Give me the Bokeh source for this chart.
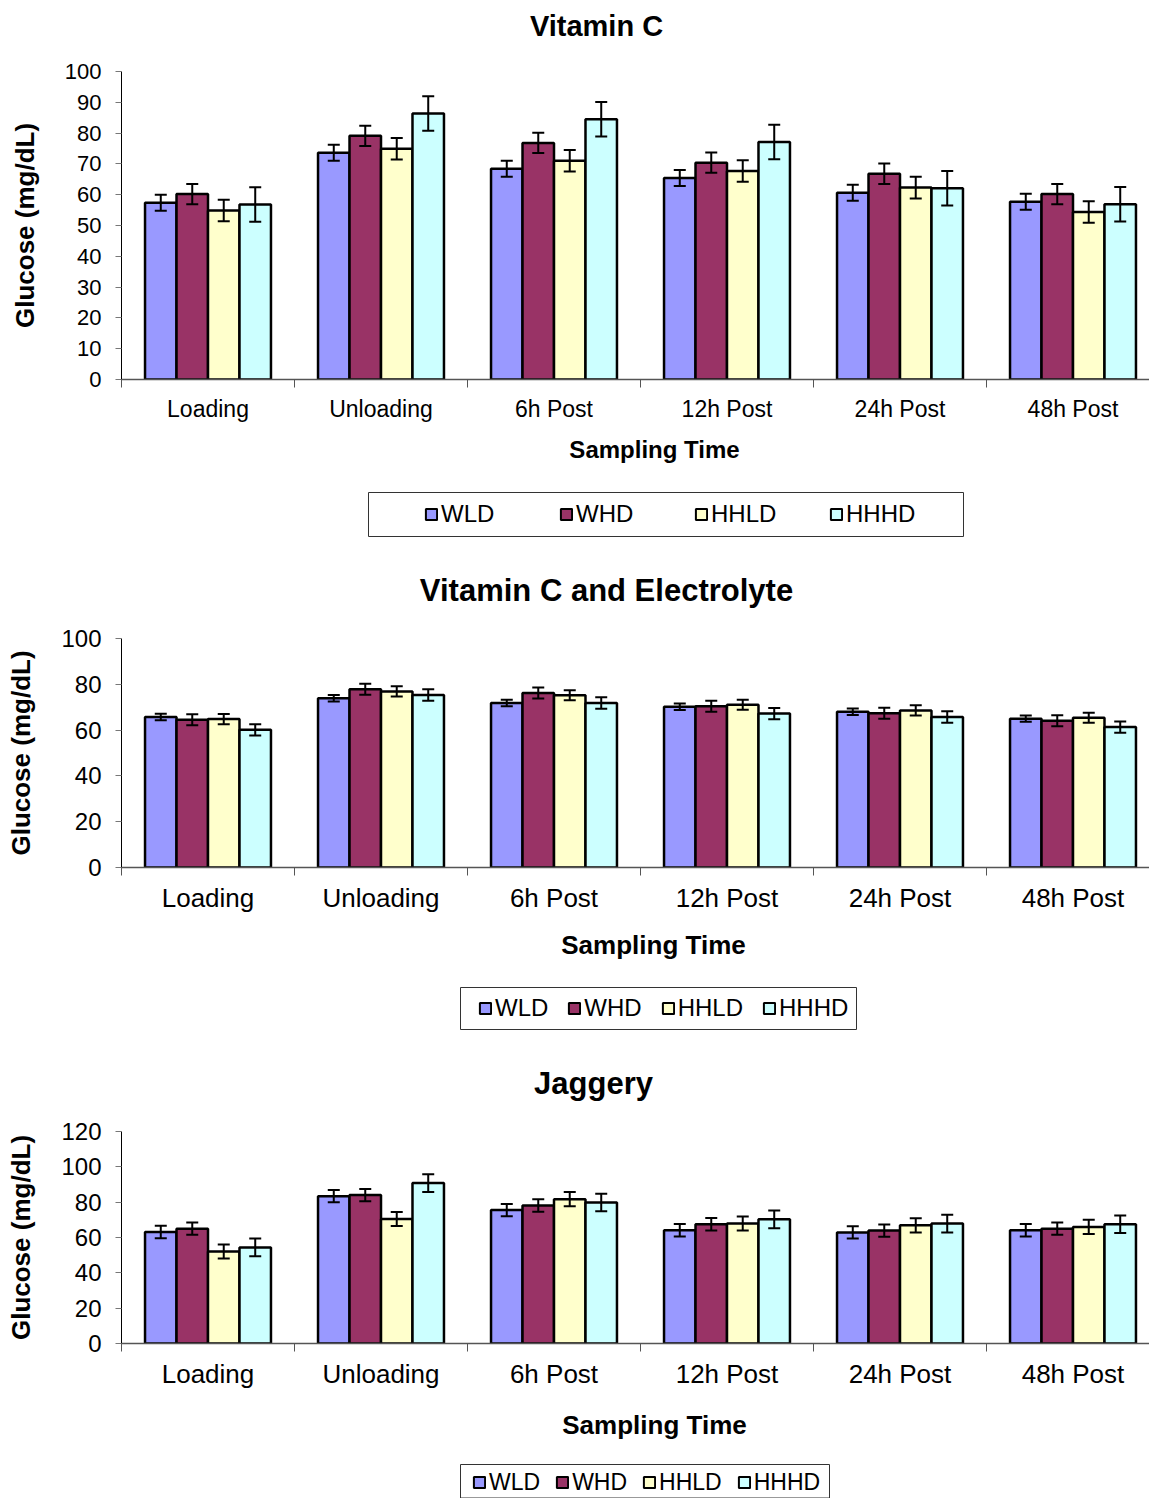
from bokeh.plotting import figure
from bokeh.models import (Range1d, FixedTicker, Whisker, TeeHead, ColumnDataSource,
                          Legend, LegendItem, Label, BoxAnnotation)
from bokeh.layouts import column
from bokeh.embed import file_html
from bokeh.resources import INLINE

# ---------------- data ----------------
categories = ["Loading", "Unloading", "6h Post", "12h Post", "24h Post", "48h Post"]
series = ["WLD", "WHD", "HHLD", "HHHD"]
colors = ["#9999FF", "#993366", "#FFFFCC", "#CCFFFF"]

# Vitamin C
vitc_wld = [57.4, 73.6, 68.4, 65.4, 60.6, 57.7]
vitc_whd = [60.2, 79.1, 76.8, 70.4, 66.8, 60.2]
vitc_hhld = [54.9, 74.9, 71.0, 67.7, 62.3, 54.4]
vitc_hhhd = [56.8, 86.4, 84.5, 77.1, 62.1, 56.9]
vitc_wld_err = [2.6, 2.6, 2.6, 2.6, 2.6, 2.6]
vitc_whd_err = [3.3, 3.3, 3.3, 3.3, 3.3, 3.3]
vitc_hhld_err = [3.5, 3.5, 3.5, 3.5, 3.5, 3.5]
vitc_hhhd_err = [5.6, 5.6, 5.6, 5.6, 5.6, 5.6]

# Vitamin C and Electrolyte
vce_wld = [65.7, 73.9, 71.8, 70.2, 68.0, 65.0]
vce_whd = [64.5, 77.8, 76.2, 70.4, 67.4, 64.1]
vce_hhld = [64.8, 76.9, 75.2, 71.1, 68.6, 65.4]
vce_hhhd = [60.1, 75.3, 71.8, 67.2, 65.7, 61.3]
vce_wld_err = [1.4, 1.4, 1.4, 1.4, 1.4, 1.4]
vce_whd_err = [2.4, 2.4, 2.4, 2.4, 2.4, 2.4]
vce_hhld_err = [2.2, 2.2, 2.2, 2.2, 2.2, 2.2]
vce_hhhd_err = [2.5, 2.5, 2.5, 2.5, 2.5, 2.5]

# Jaggery
jag_wld = [63.1, 83.4, 75.5, 64.1, 62.9, 64.1]
jag_whd = [65.0, 84.0, 78.1, 67.5, 63.9, 65.0]
jag_hhld = [52.1, 70.5, 81.7, 67.9, 66.9, 66.0]
jag_hhhd = [54.4, 90.8, 79.8, 70.3, 67.9, 67.5]
jag_wld_err = [3.5, 3.5, 3.5, 3.5, 3.5, 3.5]
jag_whd_err = [3.5, 3.5, 3.5, 3.5, 3.5, 3.5]
jag_hhld_err = [4.0, 4.0, 4.0, 4.0, 4.0, 4.0]
jag_hhhd_err = [5.0, 5.0, 5.0, 5.0, 5.0, 5.0]

yticks_vitc = [0, 10, 20, 30, 40, 50, 60, 70, 80, 90, 100]
yticks_vce = [0, 20, 40, 60, 80, 100]
yticks_jag = [0, 20, 40, 60, 80, 100, 120]

titles = ["Vitamin C", "Vitamin C and Electrolyte", "Jaggery"]
x_title = "Sampling Time"
y_title = "Glucose (mg/dL)"

FONT = "Liberation Sans"
BAR_W = 0.182
LEFT = 121
FRAME_W = 1028
W = LEFT + FRAME_W


def make_chart(values, errors, yticks, ymax, cfg):
    p = figure(frame_width=FRAME_W, frame_height=cfg["frame_h"],
               output_backend="svg", toolbar_location=None,
               x_range=Range1d(0, FRAME_W / 173.0), y_range=Range1d(0, ymax),
               min_border_left=LEFT, min_border_right=0,
               min_border_top=cfg["top"], min_border_bottom=55)
    p.title.text = ""
    p.title.visible = False
    p.outline_line_color = None
    p.xgrid.grid_line_color = None
    p.ygrid.grid_line_color = None

    for k, col in enumerate(colors):
        xs = [i + 0.5 + (k - 1.5) * BAR_W for i in range(len(categories))]
        src = ColumnDataSource(dict(x=xs, top=values[k],
                                    upper=[v + e for v, e in zip(values[k], errors[k])],
                                    lower=[v - e for v, e in zip(values[k], errors[k])]))
        p.vbar(x="x", top="top", bottom=0, width=BAR_W, source=src,
               fill_color=col, line_color="black", line_width=2.5)
        w = Whisker(source=src, base="x", upper="upper", lower="lower",
                    line_color="black", line_width=2, level="overlay",
                    upper_head=TeeHead(size=12, line_color="black", line_width=2),
                    lower_head=TeeHead(size=12, line_color="black", line_width=2))
        p.add_layout(w)

    xa = p.xaxis[0]
    xa.ticker = FixedTicker(ticks=[i + 0.5 for i in range(len(categories))],
                            minor_ticks=list(range(len(categories) + 1)))
    xa.major_label_overrides = {i + 0.5: c for i, c in enumerate(categories)}
    xa.major_tick_line_color = None
    xa.major_tick_out = 8
    xa.minor_tick_out = 8
    xa.minor_tick_in = 0
    xa.minor_tick_line_color = "#555555"
    xa.axis_line_color = "#555555"
    xa.axis_line_width = 1.5
    xa.major_label_text_font = FONT
    xa.major_label_text_font_size = cfg["xtick_fs"]
    xa.major_label_text_color = "black"
    xa.major_label_standoff = cfg["xlab_standoff"]

    ya = p.yaxis[0]
    ya.ticker = FixedTicker(ticks=yticks)
    ya.minor_tick_line_color = None
    ya.major_tick_out = 6
    ya.major_tick_in = 0
    ya.major_tick_line_color = "#777777"
    ya.axis_line_color = "black"
    ya.major_label_text_font = FONT
    ya.major_label_text_font_size = cfg["ytick_fs"]
    ya.major_label_text_color = "black"
    ya.major_label_standoff = 14
    ya.axis_label = y_title
    ya.axis_label_text_font = FONT
    ya.axis_label_text_font_size = "26px"
    ya.axis_label_text_font_style = "bold"
    ya.axis_label_text_color = "black"
    ya.axis_label_standoff = 22
    return p


def make_strip(height):
    # frame aligned with the charts' frames; data x equals page x, data y counts up from bottom
    s = figure(frame_width=FRAME_W, frame_height=height,
               output_backend="svg", toolbar_location=None,
               x_range=Range1d(LEFT, W), y_range=Range1d(0, height),
               x_axis_location=None, y_axis_location=None,
               min_border_left=LEFT, min_border_right=0,
               min_border_top=0, min_border_bottom=0)
    s.title.text = ""
    s.title.visible = False
    s.outline_line_color = None
    s.grid.visible = False
    return s


def add_text(s, x, y, text, size):
    s.add_layout(Label(x=x, y=y, text=text, text_font=FONT, text_font_size=size,
                       text_font_style="bold", text_color="black",
                       text_align="center", text_baseline="middle"))


def add_legend(s, cfg):
    items = []
    nan = float("nan")
    for name, col in zip(series, colors):
        r = s.vbar(x=[nan], top=[nan], width=1, fill_color=col, line_color="black",
                   line_width=2)
        items.append(LegendItem(label=name, renderers=[r]))
    leg = Legend(items=items, orientation="horizontal",
                 location=(cfg["x"] - LEFT, cfg["y"]),
                 label_text_font=FONT, label_text_font_size=cfg["fs"],
                 label_text_color="black",
                 glyph_width=14, glyph_height=14, label_standoff=3,
                 spacing=cfg["spacing"], label_width=cfg["lw"], label_height=28,
                 padding=0, margin=0, border_line_color=None,
                 background_fill_alpha=0)
    s.add_layout(leg, "center")
    b = cfg["box"]
    s.add_layout(BoxAnnotation(left=b[0], right=b[1], bottom=b[2], top=b[3],
                               fill_alpha=0, line_color="#333333", line_width=1,
                               line_alpha=1))


# header with first title
h1 = make_strip(56)
add_text(h1, 596, 31, titles[0], "29px")

c1 = make_chart([vitc_wld, vitc_whd, vitc_hhld, vitc_hhhd],
                [vitc_wld_err, vitc_whd_err, vitc_hhld_err, vitc_hhhd_err],
                yticks_vitc, 100,
                dict(frame_h=308, top=15, xtick_fs="23px", ytick_fs="22px", xlab_standoff=8))

g1 = make_strip(184)
add_text(g1, 654, 169, x_title, "24px")
add_legend(g1, dict(x=424, y=90, fs="24px", spacing=18, lw=100, box=(368, 963, 82, 126)))
add_text(g1, 606, 28, titles[1], "31px")

c2 = make_chart([vce_wld, vce_whd, vce_hhld, vce_hhhd],
                [vce_wld_err, vce_whd_err, vce_hhld_err, vce_hhhd_err],
                yticks_vce, 100,
                dict(frame_h=229, top=20, xtick_fs="26px", ytick_fs="24px", xlab_standoff=7))

g2 = make_strip(189)
add_text(g2, 653, 167, x_title, "26px")
add_legend(g2, dict(x=478, y=89, fs="24px", spacing=19, lw=20, box=(460, 856, 82, 124)))
add_text(g2, 593, 28, titles[2], "31px")

c3 = make_chart([jag_wld, jag_whd, jag_hhld, jag_hhhd],
                [jag_wld_err, jag_whd_err, jag_hhld_err, jag_hhhd_err],
                yticks_jag, 120,
                dict(frame_h=212, top=20, xtick_fs="26px", ytick_fs="24px", xlab_standoff=7))

g3 = make_strip(100)
add_text(g3, 654, 74, x_title, "26px")
add_legend(g3, dict(x=472, y=2, fs="23px", spacing=15, lw=20, box=(460, 829, 0.5, 34)))

layout = column(h1, c1, g1, c2, g2, c3, g3, spacing=0)
open("out.html", "w").write(file_html(layout, INLINE))
